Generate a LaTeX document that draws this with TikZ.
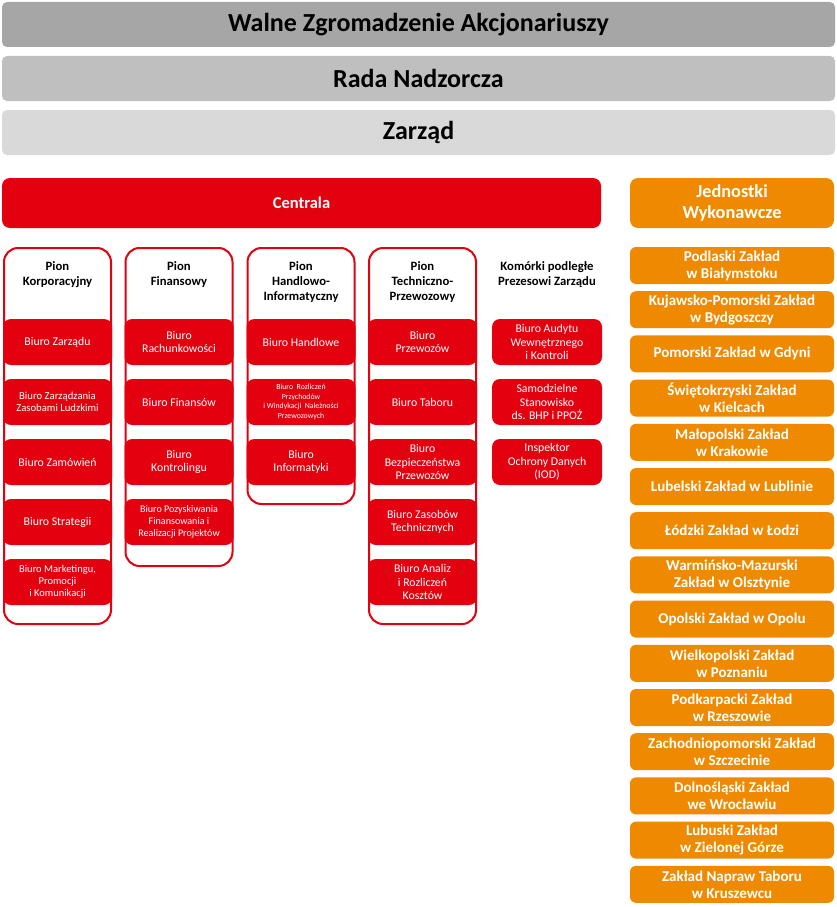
\documentclass[tikz,border=0pt]{standalone}
\usepackage{fontspec}
\setmainfont{Carlito}
\definecolor{cred}{HTML}{E3000F}
\definecolor{corange}{HTML}{EF8A00}
\definecolor{gA}{HTML}{A6A6A6}
\definecolor{gB}{HTML}{BFBFBF}
\definecolor{gC}{HTML}{D9D9D9}
\begin{document}
\begin{tikzpicture}[x=1pt,y=-1pt,
  bar/.style={rounded corners=5pt, minimum width=833pt, minimum height=45pt, inner sep=0pt,
    font=\fontsize{26}{30}\selectfont\bfseries, text=black},
  pionframe/.style={draw=cred, line width=2pt, fill=white, rounded corners=14pt, minimum width=107pt, inner sep=0pt},
  redbox/.style={fill=cred, rounded corners=8pt, minimum width=109pt, minimum height=46pt, inner sep=0pt,
    text=white, align=center, font=\fontsize{11.8}{13.5}\selectfont},
  header/.style={align=center, font=\fontsize{12.7}{15}\selectfont\bfseries, text=black, inner sep=0pt},
  orbox/.style={fill=corange, rounded corners=6pt, minimum width=204pt, minimum height=37pt, inner sep=0pt,
    text=white, align=center, font=\fontsize{15}{17}\selectfont\bfseries}
]
\useasboundingbox (0,0) rectangle (837,907);
% top bars
\node[bar, fill=gA] (wza) at (418.5,24.5) {Walne Zgromadzenie Akcjonariuszy};
\node[bar, fill=gB] (rn) at (418.5,78.5) {Rada Nadzorcza};
\node[bar, fill=gC] (zarz) at (418.5,132.5) {Zarząd};
% Centrala and Jednostki
\node[fill=cred, rounded corners=8pt, minimum width=599pt, minimum height=50pt, inner sep=0pt,
  text=white, font=\fontsize{16.5}{19}\selectfont\bfseries] (centrala) at (301.5,203) {Centrala};
\node[fill=corange, rounded corners=8pt, minimum width=204pt, minimum height=50pt, inner sep=0pt,
  text=white, align=center, font=\fontsize{18.3}{21.5}\selectfont\bfseries] (jw) at (732,203) {Jednostki\\Wykonawcze};
% Pion frames
\node[pionframe, minimum height=376pt] (p1) at (57.5,436) {};
\node[pionframe, minimum height=318pt] (p2) at (179,407) {};
\node[pionframe, minimum height=256pt] (p3) at (301,376) {};
\node[pionframe, minimum height=376pt] (p4) at (422.5,436) {};
% headers
\node[header] (h1) at (57.5,274.5) {Pion\\Korporacyjny};
\node[header] (h2) at (179,274.5) {Pion\\Finansowy};
\node[header] (h3) at (301,282) {Pion\\Handlowo-\\Informatyczny};
\node[header] (h4) at (422.5,282) {Pion\\Techniczno-\\Przewozowy};
\node[header] (h5) at (547,274.5) {Komórki podległe\\Prezesowi Zarządu};
% column 1
\node[redbox] (a1) at (57.5,342) {Biuro Zarządu};
\node[redbox, font=\fontsize{10.7}{12.5}\selectfont] (a2) at (57.5,402) {Biuro Zarządzania\\Zasobami Ludzkimi};
\node[redbox] (a3) at (57.5,462) {Biuro Zamówień};
\node[redbox] (a4) at (57.5,522) {Biuro Strategii};
\node[redbox, font=\fontsize{10.5}{12}\selectfont] (a5) at (57.5,582) {Biuro Marketingu,\\Promocji\\i Komunikacji};
% column 2
\node[redbox] (b1) at (179,342) {Biuro\\Rachunkowości};
\node[redbox] (b2) at (179,402) {Biuro Finansów};
\node[redbox] (b3) at (179,462) {Biuro\\Kontrolingu};
\node[redbox, font=\fontsize{10.1}{11.7}\selectfont] (b4) at (179,522) {Biuro Pozyskiwania\\Finansowania i\\Realizacji Projektów};
% column 3
\node[redbox] (c1) at (301,342) {Biuro Handlowe};
\node[redbox, font=\fontsize{7.8}{9.6}\selectfont] (c2) at (301,402) {Biuro~ Rozliczeń\\Przychodów\\i Windykacji~ Należności\\Przewozowych};
\node[redbox] (c3) at (301,462) {Biuro\\Informatyki};
% column 4
\node[redbox] (d1) at (422.5,342) {Biuro\\Przewozów};
\node[redbox] (d2) at (422.5,402) {Biuro Taboru};
\node[redbox] (d3) at (422.5,462) {Biuro\\Bezpieczeństwa\\Przewozów};
\node[redbox] (d4) at (422.5,522) {Biuro Zasobów\\Technicznych};
\node[redbox] (d5) at (422.5,582) {Biuro Analiz\\i Rozliczeń\\Kosztów};
% column 5
\node[redbox, minimum width=110pt] (e1) at (547,342) {Biuro Audytu\\Wewnętrznego\\i Kontroli};
\node[redbox, minimum width=110pt] (e2) at (547,402) {Samodzielne\\Stanowisko\\ds. BHP i PPOŻ};
\node[redbox, minimum width=110pt] (e3) at (547,462) {Inspektor\\Ochrony Danych\\(IOD)};
% orange column
\node[orbox] (o1) at (732,265.5) {Podlaski Zakład\\w Białymstoku};
\node[orbox] (o2) at (732,309.7) {Kujawsko-Pomorski Zakład\\w Bydgoszczy};
\node[orbox] (o3) at (732,353.9) {Pomorski Zakład w Gdyni};
\node[orbox] (o4) at (732,398.1) {Świętokrzyski Zakład\\w Kielcach};
\node[orbox] (o5) at (732,442.3) {Małopolski Zakład\\w Krakowie};
\node[orbox] (o6) at (732,486.5) {Lubelski Zakład w Lublinie};
\node[orbox] (o7) at (732,530.7) {Łódzki Zakład w Łodzi};
\node[orbox] (o8) at (732,574.9) {Warmińsko-Mazurski\\Zakład w Olsztynie};
\node[orbox] (o9) at (732,619.1) {Opolski Zakład w Opolu};
\node[orbox] (o10) at (732,663.3) {Wielkopolski Zakład\\w Poznaniu};
\node[orbox] (o11) at (732,707.5) {Podkarpacki Zakład\\w Rzeszowie};
\node[orbox] (o12) at (732,751.7) {Zachodniopomorski Zakład\\w Szczecinie};
\node[orbox] (o13) at (732,795.9) {Dolnośląski Zakład\\we Wrocławiu};
\node[orbox] (o14) at (732,840.1) {Lubuski Zakład\\w Zielonej Górze};
\node[orbox] (o15) at (732,884.3) {Zakład Napraw Taboru\\w Kruszewcu};
\end{tikzpicture}
\end{document}
